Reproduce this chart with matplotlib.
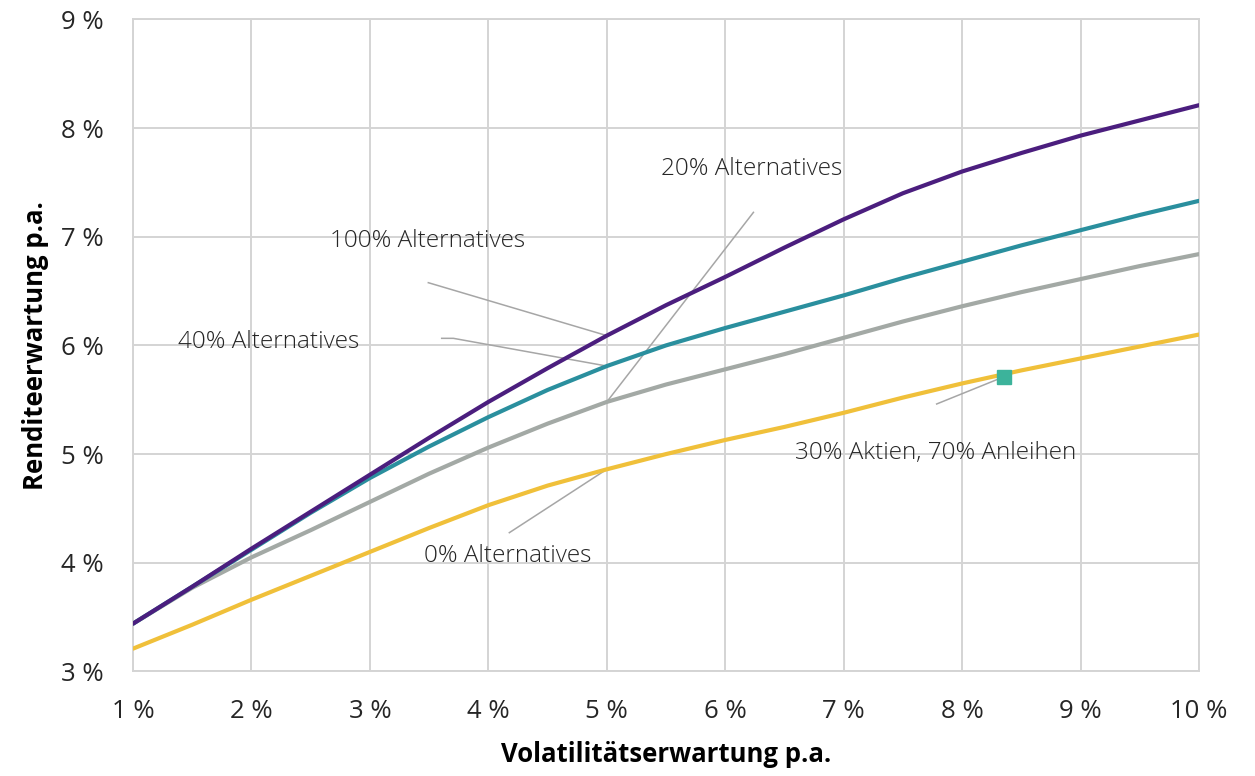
import numpy as np
import matplotlib
matplotlib.use('Agg')
import matplotlib.pyplot as plt

# Effizienzkurven: Rendite vs. Volatilitaet bei unterschiedlichem Anteil Alternatives

vol = [1, 1.5, 2, 2.5, 3, 3.5, 4, 4.5, 5, 5.5, 6, 6.5, 7, 7.5, 8, 8.5, 9, 9.5, 10]
alt100 = [3.44, 3.78, 4.13, 4.47, 4.81, 5.15, 5.48, 5.79, 6.09, 6.37, 6.63, 6.90, 7.16, 7.40, 7.60, 7.77, 7.93, 8.07, 8.21]
alt40 = [3.44, 3.78, 4.12, 4.46, 4.78, 5.07, 5.34, 5.59, 5.81, 6.00, 6.16, 6.31, 6.46, 6.62, 6.77, 6.92, 7.06, 7.20, 7.33]
alt20 = [3.44, 3.77, 4.05, 4.30, 4.56, 4.82, 5.06, 5.28, 5.48, 5.64, 5.78, 5.92, 6.07, 6.22, 6.36, 6.49, 6.61, 6.73, 6.84]
alt0 = [3.21, 3.43, 3.66, 3.88, 4.10, 4.32, 4.53, 4.71, 4.86, 5.00, 5.13, 5.25, 5.38, 5.52, 5.65, 5.77, 5.88, 5.99, 6.10]

portfolio_vol = 8.35
portfolio_ret = 5.71

xticks = [1, 2, 3, 4, 5, 6, 7, 8, 9, 10]
yticks = [3, 4, 5, 6, 7, 8, 9]

plt.rcParams['font.family'] = ['Open Sans', 'DejaVu Sans']

fig = plt.figure(figsize=(12.55, 7.76), dpi=100)
ax = fig.add_axes([0.106, 0.1347, 0.8494, 0.8404])

ax.plot(vol, alt0, color='#f0c03a', lw=3, zorder=3, solid_capstyle='round')
ax.plot(vol, alt20, color='#a3a9a5', lw=3, zorder=3, solid_capstyle='round')
ax.plot(vol, alt40, color='#2a8f9e', lw=3, zorder=3, solid_capstyle='round')
ax.plot(vol, alt100, color='#4b1e7e', lw=3, zorder=3, solid_capstyle='round')
ax.plot([portfolio_vol], [portfolio_ret], marker='s', ms=10, color='#3cb39b', ls='none', zorder=4)

lc = '#a6a6a6'
# leader lines
ax.plot([6.238, 5], [7.224, np.interp(5, vol, alt20)], color=lc, lw=1.1, zorder=2)
ax.plot([3.493, 5], [6.577, np.interp(5, vol, alt100)], color=lc, lw=1.1, zorder=2)
ax.plot([3.606, 3.705, 5], [6.065, 6.065, np.interp(5, vol, alt40)], color=lc, lw=1.1, zorder=2)
ax.plot([4.177, 5], [4.277, np.interp(5, vol, alt0)], color=lc, lw=1.1, zorder=2)
ax.plot([7.785, portfolio_vol], [5.461, portfolio_ret], color=lc, lw=1.1, zorder=2)

tk = dict(fontsize=17.5, color='#262626', ha='center', va='center', fontweight='light', zorder=5)
ax.text(6.226, 7.62, '20% Alternatives', **tk)
ax.text(3.487, 6.96, '100% Alternatives', **tk)
ax.text(2.142, 6.03, '40% Alternatives', **tk)
ax.text(4.166, 4.06, '0% Alternatives', **tk)
ax.text(7.78, 5.01, '30% Aktien, 70% Anleihen', **tk)

ax.set_xlim(1, 10)
ax.set_ylim(3, 9)
ax.set_xticks(xticks)
ax.set_yticks(yticks)
ax.set_xticklabels(['%d %%' % v for v in xticks])
ax.set_yticklabels(['%d %%' % v for v in yticks])
ax.tick_params(length=0, labelsize=18.5, labelcolor='#262626')
ax.tick_params(axis='x', pad=20)
ax.tick_params(axis='y', pad=21)
ax.grid(True, color='#d4d4d4', lw=1.4, zorder=0)
ax.set_axisbelow(True)
for s in ax.spines.values():
    s.set_color('#d4d4d4')
    s.set_linewidth(1.4)

ax.set_xlabel('Volatilitätserwartung p.a.', fontsize=18.5, fontweight='bold', labelpad=12)
ax.set_ylabel('Renditeerwartung p.a.', fontsize=18.5, fontweight='bold', labelpad=9)

plt.savefig('out.png', dpi=100)
